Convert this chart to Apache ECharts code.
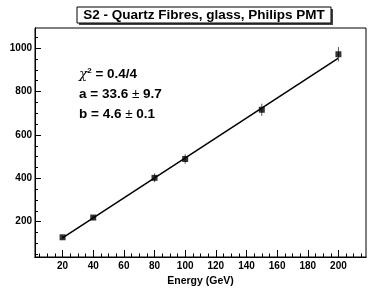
<!DOCTYPE html>
<html>
<head>
<meta charset="utf-8">
<script src="https://cdn.jsdelivr.net/npm/echarts@6/dist/echarts.min.js"></script>
<style>html,body{margin:0;padding:0;background:#fff}#c{width:374px;height:289px}</style>
</head>
<body>
<div id="c"></div>
<script>
var energy = [20, 40, 80, 100, 150, 200];
var response = [128, 219, 402, 489, 716, 972];
var respErr = [6, 8, 20, 22, 28, 33];
var fitX = [20, 200];
var fitY = [125.6, 953.6];
var xMajorTicks = [20, 40, 60, 80, 100, 120, 140, 160, 180, 200];
var xMinorTicks = [5,10,15,25,30,35,45,50,55,65,70,75,85,90,95,105,110,115,125,130,135,145,150,155,165,170,175,185,190,195,205,210,215];
var yMajorTicks = [200, 400, 600, 800, 1000];
var yMinorTicks = [50,100,150,250,300,350,450,500,550,650,700,750,850,900,950,1050];

var FONT = 'Liberation Sans, Arial, sans-serif';
var chart = echarts.init(document.getElementById('c'), null, {renderer: 'canvas'});

var pts = energy.map(function (x, i) { return [x, response[i]]; });
var errData = energy.map(function (x, i) { return [x, response[i] - respErr[i], response[i] + respErr[i]]; });
var fitData = fitX.map(function (x, i) { return [x, fitY[i]]; });

function plain(v) { return String(v); }

function xAxisBase(ticks, len, labels) {
  return {
    type: 'value', min: 2, max: 218, position: 'bottom',
    axisLine: {show: true, onZero: false, lineStyle: {color: '#000', width: 1}},
    axisTick: {show: true, inside: true, length: len, customValues: ticks, lineStyle: {color: '#000', width: 1}},
    axisLabel: labels ? {show: true, customValues: ticks, formatter: plain, color: '#000', fontFamily: FONT, fontWeight: 'bold', fontSize: 10, margin: 4} : {show: false},
    splitLine: {show: false}
  };
}
function yAxisBase(ticks, len, labels) {
  return {
    type: 'value', min: 37, max: 1093, position: 'left',
    axisLine: {show: true, onZero: false, lineStyle: {color: '#000', width: 1}},
    axisTick: {show: true, inside: true, length: len, customValues: ticks, lineStyle: {color: '#000', width: 1}},
    axisLabel: labels ? {show: true, customValues: ticks, formatter: plain, color: '#000', fontFamily: FONT, fontWeight: 'bold', fontSize: 10, margin: 3} : {show: false},
    splitLine: {show: false}
  };
}

var xa = xAxisBase(xMajorTicks, 7, true);
xa.name = 'Energy (GeV)';
xa.nameLocation = 'middle';
xa.nameGap = 18;
xa.nameTextStyle = {color: '#000', fontFamily: FONT, fontWeight: 'bold', fontSize: 10.5};
var ya = yAxisBase(yMajorTicks, 6, true);
ya.name = 'Response (ADC channels)';
ya.nameLocation = 'middle';
ya.nameGap = 24;
ya.nameTextStyle = {color: '#000', fontFamily: FONT, fontWeight: 'bold', fontSize: 10.5};

var option = {
  animation: false,
  backgroundColor: '#fff',
  grid: {left: 35, right: 8, top: 28, bottom: 32, show: true, borderColor: '#000', borderWidth: 1, backgroundColor: 'transparent', outerBoundsMode: 'none'},
  xAxis: [xa, xAxisBase(xMinorTicks, 3.5, false)],
  yAxis: [ya, yAxisBase(yMinorTicks, 3, false)],
  graphic: [
    {type: 'rect', shape: {x: 79, y: 9, width: 254, height: 16}, style: {fill: '#444'}, z: 10},
    {type: 'rect', shape: {x: 77, y: 7, width: 254, height: 16}, style: {fill: '#fff', stroke: '#000', lineWidth: 1}, z: 11},
    {type: 'text', x: 204, y: 15.5, z: 12, style: {text: 'S2 - Quartz Fibres, glass, Philips PMT', fontFamily: FONT, fontWeight: 'bold', fontSize: 13.5, fill: '#000', align: 'center', verticalAlign: 'middle'}},
    {type: 'text', x: 79, y: 74, z: 12, style: {
      text: '{g|χ}{s|2}{t| = 0.4/4}',
      verticalAlign: 'middle',
      rich: {
        g: {fontFamily: 'DejaVu Serif, serif', fontStyle: 'italic', fontSize: 13.5, fill: '#000'},
        s: {fontFamily: FONT, fontWeight: 'bold', fontSize: 8, fill: '#000', verticalAlign: 'top', padding: [0, 0, 7, 0]},
        t: {fontFamily: FONT, fontWeight: 'bold', fontSize: 13.5, fill: '#000'}
      }}},
    {type: 'text', x: 79, y: 94, z: 12, style: {
      text: '{t|a = 33.6 }{p|±}{t| 9.7}', verticalAlign: 'middle',
      rich: {t: {fontFamily: FONT, fontWeight: 'bold', fontSize: 13.5, fill: '#000'}, p: {fontFamily: FONT, fontSize: 13.5, fill: '#000'}}}},
    {type: 'text', x: 79, y: 114, z: 12, style: {
      text: '{t|b = 4.6 }{p|±}{t| 0.1}', verticalAlign: 'middle',
      rich: {t: {fontFamily: FONT, fontWeight: 'bold', fontSize: 13.5, fill: '#000'}, p: {fontFamily: FONT, fontSize: 13.5, fill: '#000'}}}}
  ],
  series: [
    {
      type: 'line', data: fitData, xAxisIndex: 0, yAxisIndex: 0, showSymbol: false, symbol: 'none',
      lineStyle: {color: '#000', width: 1.5}, z: 3, silent: true
    },
    {
      type: 'custom', xAxisIndex: 0, yAxisIndex: 0, data: errData, z: 4,
      renderItem: function (params, api) {
        var p1 = api.coord([api.value(0), api.value(1)]);
        var p2 = api.coord([api.value(0), api.value(2)]);
        return {type: 'line', shape: {x1: p1[0], y1: p1[1], x2: p2[0], y2: p2[1]}, style: {stroke: '#555', lineWidth: 1}};
      }
    },
    {
      type: 'scatter', data: pts, xAxisIndex: 0, yAxisIndex: 0, symbol: 'rect', symbolSize: 6,
      itemStyle: {color: '#000'}, z: 5
    }
  ]
};
chart.setOption(option);
</script>
</body>
</html>
